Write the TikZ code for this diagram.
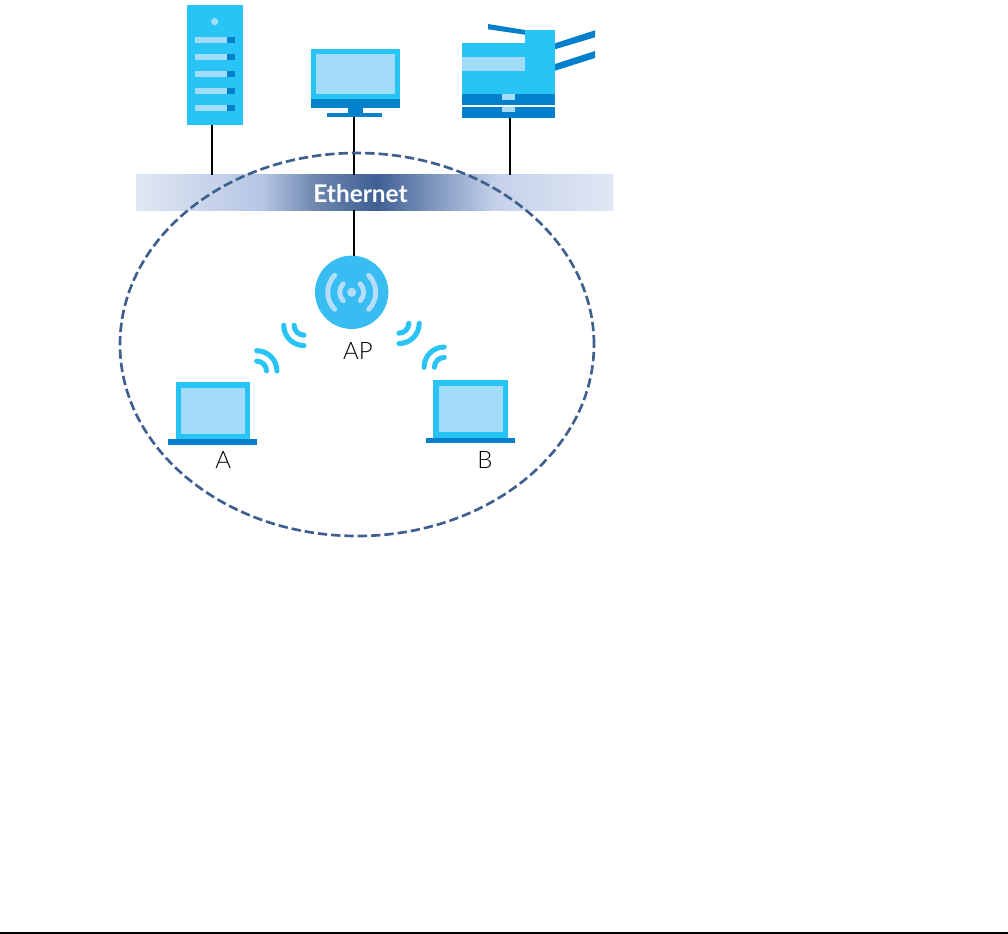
\documentclass[tikz,border=0pt]{standalone}
\usepackage{fontspec}
\setmainfont{Lato}
\newfontfamily\thinfont[UprightFont={* Light}]{Lato}
\usetikzlibrary{calc,positioning,shapes.geometric}
\definecolor{iconblue}{HTML}{27C4F5}
\definecolor{icondark}{HTML}{0280CC}
\definecolor{iconpale}{HTML}{A3DCF9}
\definecolor{apblue}{HTML}{38BDF2}
\definecolor{appale}{HTML}{B5DDF7}
\definecolor{ringblue}{HTML}{3F5F8F}
\definecolor{ethA}{HTML}{E0E7F4}
\definecolor{ethB}{HTML}{B5C5E3}
\definecolor{ethC}{HTML}{7088B0}
\definecolor{ethD}{HTML}{3F5F94}
\definecolor{ethE}{HTML}{A0B3D4}
\definecolor{ethF}{HTML}{C5D2EA}
\pgfdeclarehorizontalshading{ethbar}{100bp}{color(0bp)=(ethA); color(25bp)=(ethA);
  color(38.3bp)=(ethB); color(43.6bp)=(ethC); color(50.2bp)=(ethD);
  color(59.3bp)=(ethE); color(62.8bp)=(ethF); color(75bp)=(ethA); color(100bp)=(ethA)}
\tikzset{
  box/.style={
    rectangle,
    inner sep=0pt,
    outer sep=0pt},
  iconbody/.style={box, fill=iconblue},
  iconscreen/.style={box, fill=iconpale},
  iconbase/.style={box, fill=icondark},
  link/.style={draw, black, line width=1.5pt},
  ring/.style={draw=ringblue, line width=2pt, dash pattern=on 7pt off 3pt},
  signal/.style={draw=iconblue, line width=3.8pt, line cap=round},
  apwave/.style={draw=appale, line width=3.7pt, line cap=round},
  devlabel/.style={box, text=black, font=\fontsize{18}{20}\selectfont\thinfont},
  ethlabel/.style={box, text=white, font=\fontsize{18.3}{20}\selectfont\bfseries},
}
% two arcs round one centre: centre, start angle, end angle
\newcommand{\wifipair}[3]{
  \draw[signal] (#1) ++(#2:7.4pt) arc[start angle=#2, end angle=#3, radius=7.4pt];
  \draw[signal] (#1) ++(#2:15.2pt) arc[start angle=#2, end angle=#3, radius=15.2pt];
}
\begin{document}
\begin{tikzpicture}[x=.75pt,y=-.75pt]
  \useasboundingbox (0,0) rectangle (1008,934);

  % ethernet backbone
  \node[box, shading=ethbar, minimum width=357.75pt, minimum height=26.7pt] (ethernet) at (374.5,192.5) {};
  \node[ethlabel] (ethtext) at (360.5,194) {Ethernet};

  % server
  \node[iconbody, minimum width=42.4pt, minimum height=89.9pt] (server) at (214.8,65.3) {};
  \fill[iconpale] (214.7,21.7) circle[radius=2.7pt];
  \foreach \y in {37,54,71,88,105}{
    \fill[iconpale] (194.7,\y) rectangle (226.7,\y+6);
    \fill[icondark] (226.7,\y) rectangle (235,\y+6);
  }

  % monitor
  \node[iconbody, minimum width=66.75pt, minimum height=37.3pt] (monitor) at (355.2,74.2) {};
  \node[iconscreen, minimum width=59.5pt, minimum height=29.8pt] (monitorscreen) at (355.35,74.15) {};
  \node[iconbase, minimum width=66.75pt, minimum height=7pt] (monitorband) at (355.2,103.7) {};
  \fill[icondark] (347.7,108) rectangle (362.7,114);
  \node[iconbase, minimum width=41.25pt, minimum height=3pt] (monitorfoot) at (354.8,115.3) {};

  % printer
  \fill[icondark] (488,24) -- (525,30) -- (525,34.7) -- (488,29.3) -- cycle;
  \fill[icondark] (555,43.3) -- (595,30.3) -- (595,37.3) -- (555,49.3) -- cycle;
  \fill[icondark] (555,64) -- (595,51) -- (595,58) -- (555,70.7) -- cycle;
  \node[iconbody, minimum width=69.75pt, minimum height=38.0pt] (printer) at (508.5,68.65) {};
  \fill[iconblue] (525,29.7) rectangle (555,44);
  \fill[iconpale] (462,57) rectangle (525,70.7);
  \node[iconbase, minimum width=69.75pt, minimum height=8.25pt] (trayupper) at (508.5,99.5) {};
  \node[iconbase, minimum width=69.75pt, minimum height=8.5pt] (traylower) at (508.5,112.35) {};
  \fill[iconpale] (501.7,94) rectangle (515,100);
  \fill[iconpale] (501.7,106.7) rectangle (515,111.7);

  % access point
  \node[box, circle, fill=apblue, minimum size=55pt] (ap) at (351.7,292.3) {};
  \fill[appale] (ap.center) circle[radius=3.4pt];
  \draw[apwave] (ap.center) ++(45:9pt) arc[start angle=45, end angle=-45, radius=9pt];
  \draw[apwave] (ap.center) ++(135:9pt) arc[start angle=135, end angle=225, radius=9pt];
  \draw[apwave] (ap.center) ++(45:18pt) arc[start angle=45, end angle=-45, radius=18pt];
  \draw[apwave] (ap.center) ++(135:18pt) arc[start angle=135, end angle=225, radius=18pt];
  \node[devlabel] (aplabel) at (358,351) {AP};

  % laptops
  \node[iconbody, minimum width=55.7pt, minimum height=43pt] (laptopA) at (213.15,410.65) {};
  \node[iconscreen, minimum width=47.8pt, minimum height=34.5pt] (screenA) at (213.15,410.7) {};
  \node[iconbase, minimum width=66.75pt, minimum height=4pt] (baseA) at (212.8,442) {};
  \node[devlabel] (labelA) at (223.3,460) {A};
  \node[iconbody, minimum width=56pt, minimum height=43.5pt] (laptopB) at (470.65,409) {};
  \node[iconscreen, minimum width=48pt, minimum height=35pt] (screenB) at (470.7,409) {};
  \node[iconbase, minimum width=66.3pt, minimum height=4pt] (baseB) at (470.5,440.65) {};
  \node[devlabel] (labelB) at (485,460) {B};

  % wireless signals
  \coordinate (sigA) at (304,325.3);
  \coordinate (sigB) at (256.7,371);
  \coordinate (sigC) at (399,323.3);
  \coordinate (sigD) at (444.3,367.3);
  \wifipair{sigA}{180}{270}
  \wifipair{sigB}{90}{0}
  \wifipair{sigC}{270}{360}
  \wifipair{sigD}{180}{90}

  % wires
  \coordinate (serverport) at (212.3,125);
  \coordinate (monitorport) at (354,117);
  \coordinate (printerport) at (510.3,118);
  \coordinate (apport) at (354,256.5);
  \draw[link] (serverport) -- (serverport |- ethernet.north);
  \draw[link] (monitorport) -- (monitorport |- ethernet.north);
  \draw[link] (printerport) -- (printerport |- ethernet.north);
  \draw[link] (apport |- ethernet.south) -- (apport);

  % wireless coverage
  \node[box, ellipse, ring, minimum width=355.5pt, minimum height=287.25pt] (cover) at (357,344.5) {};

  % page rule
  \coordinate (ruleleft) at (0,933);
  \coordinate (ruleright) at (1008,933);
  \draw[black, line width=1.1pt] (ruleleft) -- (ruleright);
\end{tikzpicture}
\end{document}
